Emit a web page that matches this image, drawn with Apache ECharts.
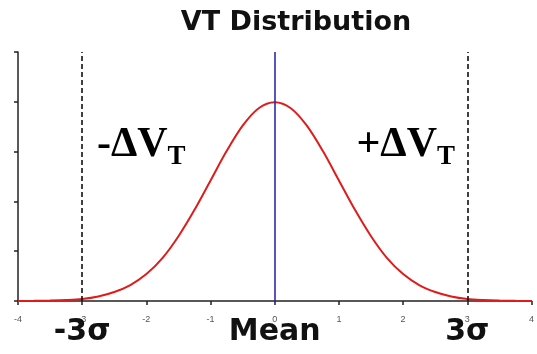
<!DOCTYPE html>
<html>
<head>
<meta charset="utf-8">
<script src="https://cdn.jsdelivr.net/npm/echarts@6/dist/echarts.min.js"></script>
<style>
  html, body { margin: 0; padding: 0; background: #fff; }
  #chart { width: 537px; height: 354px; }
</style>
</head>
<body>
<div id="chart"></div>
<script>
// curve (x in sigma, y = density)
const xValues = [-4, -3.75, -3.5, -3.25, -3, -2.75, -2.5, -2.25, -2, -1.75, -1.5, -1.25, -1, -0.75, -0.5, -0.25,
  0, 0.25, 0.5, 0.75, 1, 1.25, 1.5, 1.75, 2, 2.25, 2.5, 2.75, 3, 3.25, 3.5, 3.75, 4];
const yValues = [0.0001, 0.0004, 0.001, 0.002, 0.004, 0.009, 0.018, 0.032, 0.054, 0.086, 0.130, 0.183, 0.242, 0.301, 0.352, 0.387,
  0.399, 0.387, 0.352, 0.301, 0.242, 0.183, 0.130, 0.086, 0.054, 0.032, 0.018, 0.009, 0.004, 0.002, 0.001, 0.0004, 0.0001];
const sigmaLines = [-3, 3];
const meanLine = 0;
const sigmaLabels = { '-3': '-3σ', '0': 'Mean', '3': '3σ' };
const deltaLabels = [
  { x: -2.08, y: 0.313, sign: '-' },
  { x: 2.04, y: 0.313, sign: '+' }
];

const chart = echarts.init(document.getElementById('chart'));

const options = {
  animation: false,
  title: {
    text: 'VT Distribution',
    left: 291,
    top: 4,
    textAlign: 'center',
    textStyle: {
      fontFamily: 'DejaVu Sans',
      fontWeight: 'bold',
      fontSize: 27,
      color: '#111'
    }
  },
  grid: {
    left: 18,
    right: 5,
    top: 52,
    bottom: 53
  },
  xAxis: [{
    type: 'value',
    min: -4,
    max: 4,
    interval: 1,
    splitLine: { show: false },
    axisLine: { lineStyle: { color: '#222', width: 1.5 } },
    axisTick: { length: 4, lineStyle: { color: '#222', width: 1.5 } },
    axisLabel: {
      margin: 14,
      fontSize: 9,
      color: '#555',
      fontFamily: 'Liberation Sans'
    }
  }, {
    type: 'value',
    position: 'bottom',
    offset: 0,
    min: -4,
    max: 4,
    interval: 1,
    splitLine: { show: false },
    axisLine: { show: false },
    axisTick: { show: false },
    axisLabel: {
      margin: 16,
      fontSize: 30,
      fontWeight: 'bold',
      fontFamily: 'DejaVu Sans',
      color: '#111',
      showMinLabel: false,
      showMaxLabel: false,
      formatter: function (v) {
        return sigmaLabels[String(v)] || '';
      }
    }
  }],
  yAxis: {
    type: 'value',
    min: 0,
    max: 0.5,
    interval: 0.1,
    splitLine: { show: false },
    axisLine: { show: true, onZero: false, lineStyle: { color: '#222', width: 1.5 } },
    axisTick: { show: true, length: 4, lineStyle: { color: '#222', width: 1.5 } },
    axisLabel: { show: false }
  },
  series: [{
    name: 'VT',
    type: 'line',
    smooth: 0.3,
    showSymbol: false,
    data: xValues.map((x, i) => [x, yValues[i]]),
    lineStyle: { color: '#e01b1b', width: 2 },
    z: 3,
    markLine: {
      symbol: 'none',
      silent: true,
      label: { show: false },
      data: sigmaLines.map(v => ({
        xAxis: v,
        lineStyle: { color: '#111', type: [5, 3], width: 1.6 }
      })).concat([{
        xAxis: meanLine,
        lineStyle: { color: '#2b2bb0', type: 'solid', width: 1.6 }
      }])
    }
  }, {
    name: 'labels',
    type: 'scatter',
    symbolSize: 0,
    silent: true,
    itemStyle: { opacity: 1 },
    data: deltaLabels.map(d => ({
      value: [d.x, d.y],
      label: {
        show: true,
        position: 'inside',
        formatter: d.sign + 'ΔV{sub|T}',
        fontFamily: 'Liberation Serif',
        fontWeight: 'bold',
        fontSize: 42,
        color: '#000',
        rich: {
          sub: {
            fontFamily: 'Liberation Serif',
            fontWeight: 'bold',
            fontSize: 27,
            color: '#000',
            verticalAlign: 'bottom',
            padding: [24, 0, 0, 0]
          }
        }
      }
    }))
  }]
};

chart.setOption(options);
</script>
</body>
</html>
